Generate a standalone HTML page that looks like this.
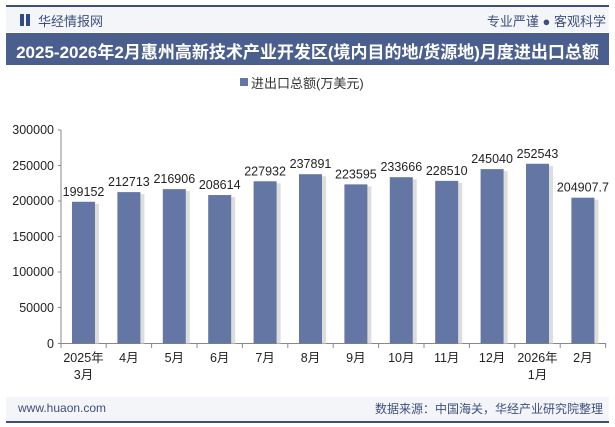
<!DOCTYPE html><html><head><meta charset="utf-8"><style>
body{margin:0;width:615px;height:427px;background:#fff;font-family:"Liberation Sans","Noto Sans CJK SC",sans-serif;position:relative;overflow:hidden}
.a{position:absolute}
</style></head><body>
<div class="a" style="left:6px;top:5px;width:603px;height:2px;background:#3d4f7c"></div>
<div class="a" style="left:6px;top:7px;width:603px;height:25px;background:#f3f5f9"></div>
<div class="a" style="left:20px;top:14px;width:4px;height:12px;background:#2f4a86"></div>
<div class="a" style="left:26px;top:14px;width:4px;height:12px;background:#2f4a86"></div>
<div class="a" style="left:38px;top:11px;font-size:13px;color:#3d4f7c">华经情报网</div>
<div class="a" style="right:9px;top:11px;font-size:13px;color:#3d4f7c">专业严谨 ● 客观科学</div>
<div class="a" style="left:6px;top:33px;width:603px;height:32px;background:#4a5f8e"></div>
<div class="a" style="left:6px;top:38px;width:603px;text-align:center;font-size:17px;font-weight:bold;color:#fff;letter-spacing:0px">2025-2026年2月惠州高新技术产业开发区(境内目的地/货源地)月度进出口总额</div>
<div class="a" style="left:240px;top:78px;width:8px;height:8px;background:#6476a4"></div>
<div class="a" style="left:251px;top:73px;font-size:13px;color:#333">进出口总额(万美元)</div>
<svg class="a" style="left:0;top:0" width="615" height="427">
<g font-size="12.5" fill="#222" text-anchor="end" font-family="Liberation Sans">
<text x="54" y="134">300000</text><text x="54" y="170">250000</text><text x="54" y="205">200000</text><text x="54" y="241">150000</text><text x="54" y="276">100000</text><text x="54" y="312">50000</text><text x="54" y="348">0</text>
</g>
<line x1="61" y1="130" x2="61" y2="344" stroke="#888"/>
<g stroke="#888"><line x1="58" y1="130" x2="61" y2="130"/><line x1="58" y1="165.5" x2="61" y2="165.5"/><line x1="58" y1="201" x2="61" y2="201"/><line x1="58" y1="236.5" x2="61" y2="236.5"/><line x1="58" y1="272" x2="61" y2="272"/><line x1="58" y1="307.5" x2="61" y2="307.5"/></g>
<line x1="58" y1="343.5" x2="606" y2="343.5" stroke="#888"/>
<g id="bars" fill="#6476a4" font-size="12.5" text-anchor="middle" font-family="Liberation Sans"></g>
</svg>
<div class="a" style="left:6px;top:397px;width:603px;height:24px;background:#f3f5f9"></div>
<div class="a" style="left:6px;top:421px;width:603px;height:2px;background:#3d4f7c"></div>
<div class="a" style="left:18px;top:401px;font-size:12px;color:#3d4f7c">www.huaon.com</div>
<div class="a" style="right:12px;top:400px;font-size:12px;color:#3d4f7c">数据来源：中国海关，华经产业研究院整理</div>
<script>
var v=[199152,212713,216906,208614,227932,237891,223595,233666,228510,245040,252543,204907.7];
var l=[["2025年","3月"],["4月"],["5月"],["6月"],["7月"],["8月"],["9月"],["10月"],["11月"],["12月"],["2026年","1月"],["2月"]];
var g=document.getElementById('bars'),s='';
for(var i=0;i<12;i++){var c=83.5+45.4*i,h=v[i]/300000*213.5,y=343.5-h;
s+='<rect x="'+(c+11.5)+'" y="'+(y+2)+'" width="4" height="'+(h-2)+'" fill="#ddd"/>';
s+='<rect x="'+(c-11.5)+'" y="'+y+'" width="23" height="'+h+'"/>';
s+='<text x="'+c+'" y="'+(y-6)+'" fill="#222">'+v[i]+'</text>';
s+='<line x1="'+(c+22.7)+'" y1="343" x2="'+(c+22.7)+'" y2="348" stroke="#888"/>';
for(var j=0;j<l[i].length;j++)s+='<text x="'+c+'" y="'+(362+j*17)+'" fill="#222">'+l[i][j]+'</text>';}
s+='<line x1="61" y1="343" x2="61" y2="348" stroke="#888"/>';
g.innerHTML=s;
</script>
</body></html>
